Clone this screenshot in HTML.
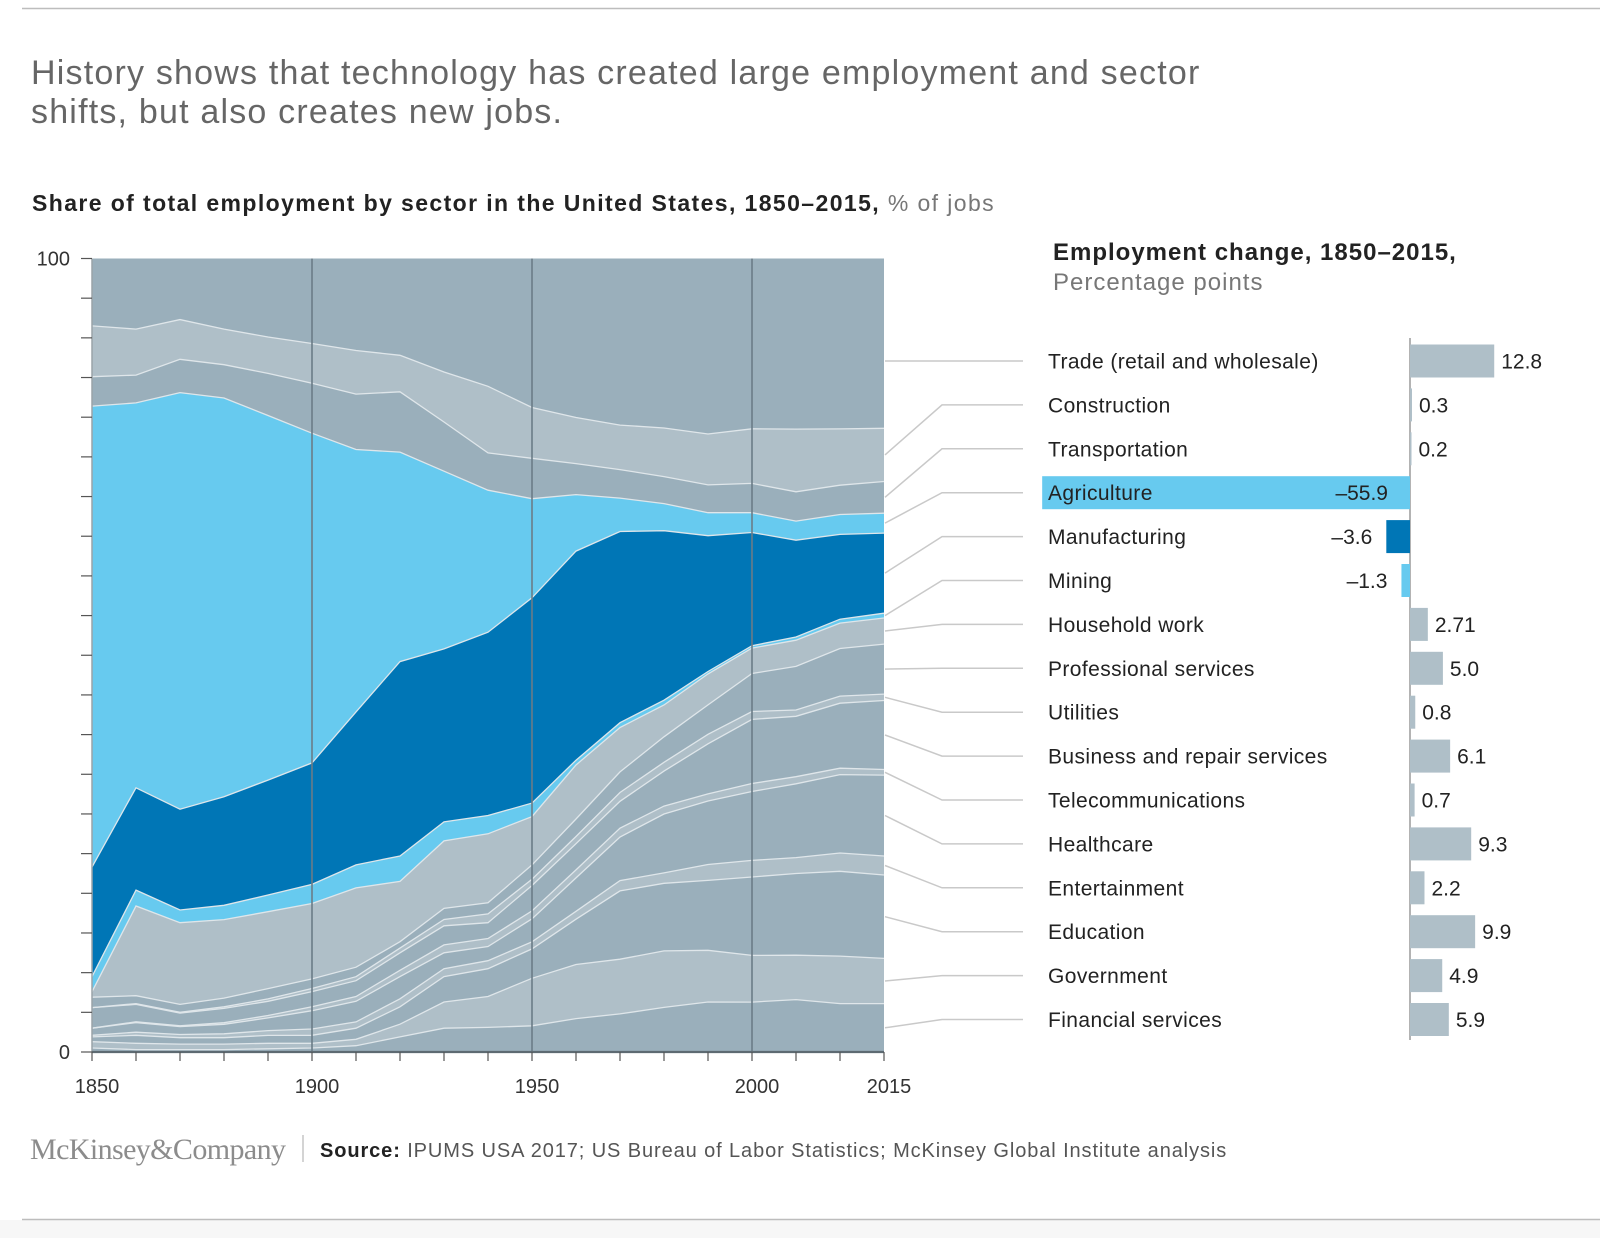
<!DOCTYPE html>
<html><head><meta charset="utf-8"><title>Share of US employment by sector</title>
<style>
html,body{margin:0;padding:0;background:#fff;}
body{width:1600px;height:1238px;overflow:hidden;position:relative;font-family:"Liberation Sans",Arial,sans-serif;}
svg{position:absolute;left:0;top:0;}
text{font-family:"Liberation Sans",Arial,sans-serif;}
</style></head>
<body>
<svg id="chart" width="1600" height="1238" viewBox="0 0 1600 1238">
  <rect x="0" y="1220" width="1600" height="18" fill="#f7f7f7"/>
  <line x1="22" y1="8.5" x2="1600" y2="8.5" stroke="#bdbdbd" stroke-width="1.5"/>
  <text x="31" y="84" font-size="34" letter-spacing="1.2" fill="#666">History shows that technology has created large employment and sector</text>
  <text x="31" y="123" font-size="34" letter-spacing="1.2" fill="#666">shifts, but also creates new jobs.</text>
  <text x="32" y="211" font-size="23" letter-spacing="1.4"><tspan font-weight="bold" fill="#222">Share of total employment by sector in the United States, 1850–2015,</tspan><tspan fill="#777"> % of jobs</tspan></text>
  <text x="1053" y="260" font-size="24" letter-spacing="1" font-weight="bold" fill="#222">Employment change, 1850–2015,</text>
  <text x="1053" y="290" font-size="24" letter-spacing="1" fill="#777">Percentage points</text>
  <g id="areas"></g>
  <g id="axes"></g>
  <g id="bars"></g>
  <text x="30" y="1159" font-size="30" fill="#8c8c8c" style="font-family:'Liberation Serif',serif;letter-spacing:-0.6px">McKinsey&amp;Company</text>
  <line x1="303" y1="1135" x2="303" y2="1162" stroke="#aaa" stroke-width="1"/>
  <text x="320" y="1157" font-size="20" letter-spacing="0.9" fill="#555"><tspan font-weight="bold" fill="#222">Source:</tspan> IPUMS USA 2017; US Bureau of Labor Statistics; McKinsey Global Institute analysis</text>
  <line x1="22" y1="1219.5" x2="1600" y2="1219.5" stroke="#bdbdbd" stroke-width="1.5"/>
</svg>
<script>
// Years (data points)
const years = [1850,1860,1870,1880,1890,1900,1910,1920,1930,1940,1950,1960,1970,1980,1990,2000,2005,2010,2015];
const xTickLabels = ["1850","1900","1950","2000","2015"];
const yTickLabels = ["0","100"];
// Sector order, top row first
const sectors = ["Trade (retail and wholesale)","Construction","Transportation","Agriculture","Manufacturing","Mining","Household work","Professional services","Utilities","Business and repair services","Telecommunications","Healthcare","Entertainment","Education","Government","Financial services"];
// Share of employment (%) per sector per year
const trade = [8.5,8.9,7.7,8.9,9.9,10.7,11.6,12.2,14.3,16.1,18.8,20.0,21.0,21.3,22.1,21.5,21.5,21.5,21.4];
const construction = [6.4,5.8,5.0,4.5,4.6,5.0,5.5,4.6,6.3,8.4,6.4,5.8,5.6,6.1,6.4,6.9,7.9,7.1,6.7];
const transportation = [3.7,3.5,4.2,4.2,5.3,6.3,7.0,7.6,6.2,4.7,5.1,3.9,3.6,3.4,3.5,3.7,3.7,3.7,4.0];
const agriculture = [58.1,48.5,52.5,50.3,46.0,41.5,33.1,26.4,22.4,17.9,12.5,7.1,4.2,3.4,2.9,2.5,2.4,2.5,2.5];
const manufacturing = [13.8,12.9,12.7,13.7,14.5,15.3,19.3,24.5,21.8,23.1,25.9,26.3,24.1,21.3,17.1,14.3,12.2,10.7,10.1];
const mining = [1.9,2.0,1.6,1.8,2.1,2.4,2.9,3.2,2.4,2.3,1.7,0.6,0.6,0.6,0.3,0.3,0.4,0.5,0.6];
const household = [0.7,11.3,10.3,9.9,9.7,9.5,10.0,7.6,8.5,8.7,6.1,6.8,5.6,4.0,3.9,3.2,3.3,3.2,3.3];
const professional = [1.3,1.0,1.0,1.1,1.3,1.2,1.2,0.8,1.4,1.4,1.8,2.2,2.6,3.2,3.7,4.8,5.5,6.0,6.3];
const utilities = [0.0,0.1,0.1,0.2,0.3,0.4,0.5,0.6,0.8,1.1,0.8,0.9,1.1,1.1,1.2,1.0,0.8,0.9,0.8];
const business = [2.6,2.2,1.6,1.8,1.8,1.9,2.0,2.2,2.4,2.0,3.2,3.3,3.4,4.4,6.3,8.1,7.6,8.2,8.7];
const telecom = [0.0,0.1,0.1,0.2,0.3,0.5,0.6,0.8,1.0,1.0,1.0,1.0,1.1,1.0,0.9,1.0,0.9,0.8,0.7];
const healthcare = [0.9,1.2,1.0,1.2,1.6,2.3,2.6,2.8,2.0,1.8,2.9,4.2,5.5,7.4,8.0,8.7,9.3,9.9,10.2];
const entertainment = [0.2,0.4,0.4,0.5,0.6,0.8,0.8,1.0,1.0,1.0,0.9,1.0,1.3,1.3,2.0,2.1,2.0,2.3,2.4];
const education = [0.6,1.0,0.8,0.8,1.0,1.0,1.4,2.2,3.2,3.5,3.7,5.7,8.6,8.5,8.8,9.9,10.3,10.7,10.5];
const government = [0.8,0.8,0.7,0.7,0.7,0.6,0.8,1.6,3.3,3.9,6.0,6.8,6.9,7.1,6.5,5.9,5.6,6.0,5.7];
const financial = [0.5,0.3,0.3,0.3,0.4,0.5,0.8,1.9,3.0,3.1,3.3,4.2,4.8,5.6,6.3,6.3,6.6,6.1,6.1];
// Employment change 1850-2015, percentage points
const changes = [12.8,0.3,0.2,-55.9,-3.6,-1.3,2.71,5.0,0.8,6.1,0.7,9.3,2.2,9.9,4.9,5.9];
const changeLabels = ["12.8","0.3","0.2","–55.9","–3.6","–1.3","2.71","5.0","0.8","6.1","0.7","9.3","2.2","9.9","4.9","5.9"];

const series = [trade,construction,transportation,agriculture,manufacturing,mining,household,professional,utilities,business,telecom,healthcare,entertainment,education,government,financial];
const DARK="#9aafbb", LIGHT="#afbfc8", LBLUE="#67caef", DBLUE="#0076b6";
const colors = [DARK,LIGHT,DARK,LBLUE,DBLUE,LBLUE,LIGHT,DARK,LIGHT,DARK,LIGHT,DARK,LIGHT,DARK,LIGHT,DARK];
const barColors = [LIGHT,LIGHT,LIGHT,LBLUE,DBLUE,LBLUE,LIGHT,LIGHT,LIGHT,LIGHT,LIGHT,LIGHT,LIGHT,LIGHT,LIGHT,LIGHT];

const NS="http://www.w3.org/2000/svg";
const X0=92, XSTEP=44, Y0=1052, Y100=258.5;
function xScale(i){return X0+XSTEP*i;}
function yScale(p){return Y0-(Y0-Y100)*p/100;}
function yearIndex(y){return years.indexOf(y);}
function mk(tag,attrs,parent){const e=document.createElementNS(NS,tag);for(const k in attrs)e.setAttribute(k,attrs[k]);parent.appendChild(e);return e;}

const areas=document.getElementById('areas');
const axes=document.getElementById('axes');
const bars=document.getElementById('bars');

const n=years.length, m=series.length;
const totals=years.map((_,i)=>series.reduce((s,a)=>s+a[i],0));
const bottoms=[], tops=[];
let acc=years.map(()=>0);
for(let k=m-1;k>=0;k--){
  const b=acc.slice();
  const t=acc.map((v,i)=>v+series[k][i]*100/totals[i]);
  bottoms[k]=b; tops[k]=t; acc=t;
}
for(let k=0;k<m;k++){
  let d="";
  for(let i=0;i<n;i++) d+=(i?"L":"M")+xScale(i).toFixed(1)+","+yScale(tops[k][i]).toFixed(1);
  for(let i=n-1;i>=0;i--) d+="L"+xScale(i).toFixed(1)+","+yScale(bottoms[k][i]).toFixed(1);
  d+="Z";
  const p=mk('path',{d:d,fill:colors[k]},areas);
  
  
}
for(let k=1;k<m;k++){
  let d="";
  for(let i=0;i<n;i++) d+=(i?"L":"M")+xScale(i).toFixed(1)+","+yScale(tops[k][i]).toFixed(1);
  const l=mk('path',{d:d,fill:"none",stroke:"#dfe6ea","stroke-width":"1.3"},areas);
  
  
}
[1900,1950,2000].forEach(yr=>{
  const x=xScale(yearIndex(yr));
  const l=mk('line',{x1:x,y1:Y100,x2:x,y2:Y0,stroke:"#6b7c87","stroke-width":"1.6"},areas);
  
  
});
const ya=mk('line',{x1:X0,y1:Y100,x2:X0,y2:Y0,stroke:"#9aa3a8","stroke-width":"1.5"},axes);


for(let p=0;p<=100;p+=5){
  const t=mk('line',{x1:81,y1:yScale(p),x2:X0,y2:yScale(p),stroke:"#555","stroke-width":"1.2"},axes);
  
  
}
yTickLabels.forEach(s=>{
  const t=mk('text',{x:70,y:yScale(+s)+7,"text-anchor":"end","font-size":"20",fill:"#333"},axes);
  t.textContent=s;
  
  
});
const xa=mk('line',{x1:X0,y1:Y0,x2:xScale(n-1),y2:Y0,stroke:"#5d6a72","stroke-width":"2.2"},axes);


for(let i=0;i<n;i++){
  const t=mk('line',{x1:xScale(i),y1:Y0,x2:xScale(i),y2:Y0+9,stroke:"#555","stroke-width":"1.2"},axes);
  
  
}
xTickLabels.forEach(s=>{
  const t=mk('text',{x:xScale(yearIndex(+s))+5,y:1093,"text-anchor":"middle","font-size":"20",fill:"#333"},axes);
  t.textContent=s;
  
  
});

const BASE=1410, BSCALE=6.58, ROW0=361, ROWSTEP=43.9, BH=33;
function bScale(v){return v*BSCALE;}
const bl=mk('line',{x1:BASE,y1:338,x2:BASE,y2:1040,stroke:"#9a9a9a","stroke-width":"1.5"},bars);


for(let k=0;k<m;k++){
  const cy=ROW0+ROWSTEP*k;
  const mid=yScale((tops[k][n-1]+bottoms[k][n-1])/2);
  const con=mk('polyline',{points:(xScale(n-1)+1)+","+(k===0?cy:mid).toFixed(1)+" 942,"+cy.toFixed(1)+" 1023,"+cy.toFixed(1),fill:"none",stroke:"#c9c9c9","stroke-width":"1.5"},bars);
  
  
  const v=changes[k], w=Math.abs(bScale(v));
  const r=mk('rect',{x:v>=0?BASE:BASE-w,y:cy-BH/2,width:Math.max(w,1.5),height:BH,fill:barColors[k]},bars);
  
  
  const lab=mk('text',{x:1048,y:cy+7.5,"font-size":"21","letter-spacing":"0.4",fill:"#222"},bars);
  lab.textContent=sectors[k];
  
  
  let vx, anchor;
  if(v>=0){vx=BASE+Math.max(w,1.5)+7;anchor="start";}
  else if(w>60){vx=BASE-22;anchor="end";}
  else {vx=BASE-w-14;anchor="end";}
  const vt=mk('text',{x:vx,y:cy+7.5,"font-size":"21",fill:"#222","text-anchor":anchor},bars);
  vt.textContent=changeLabels[k];
  
  
}
</script>
</body></html>
